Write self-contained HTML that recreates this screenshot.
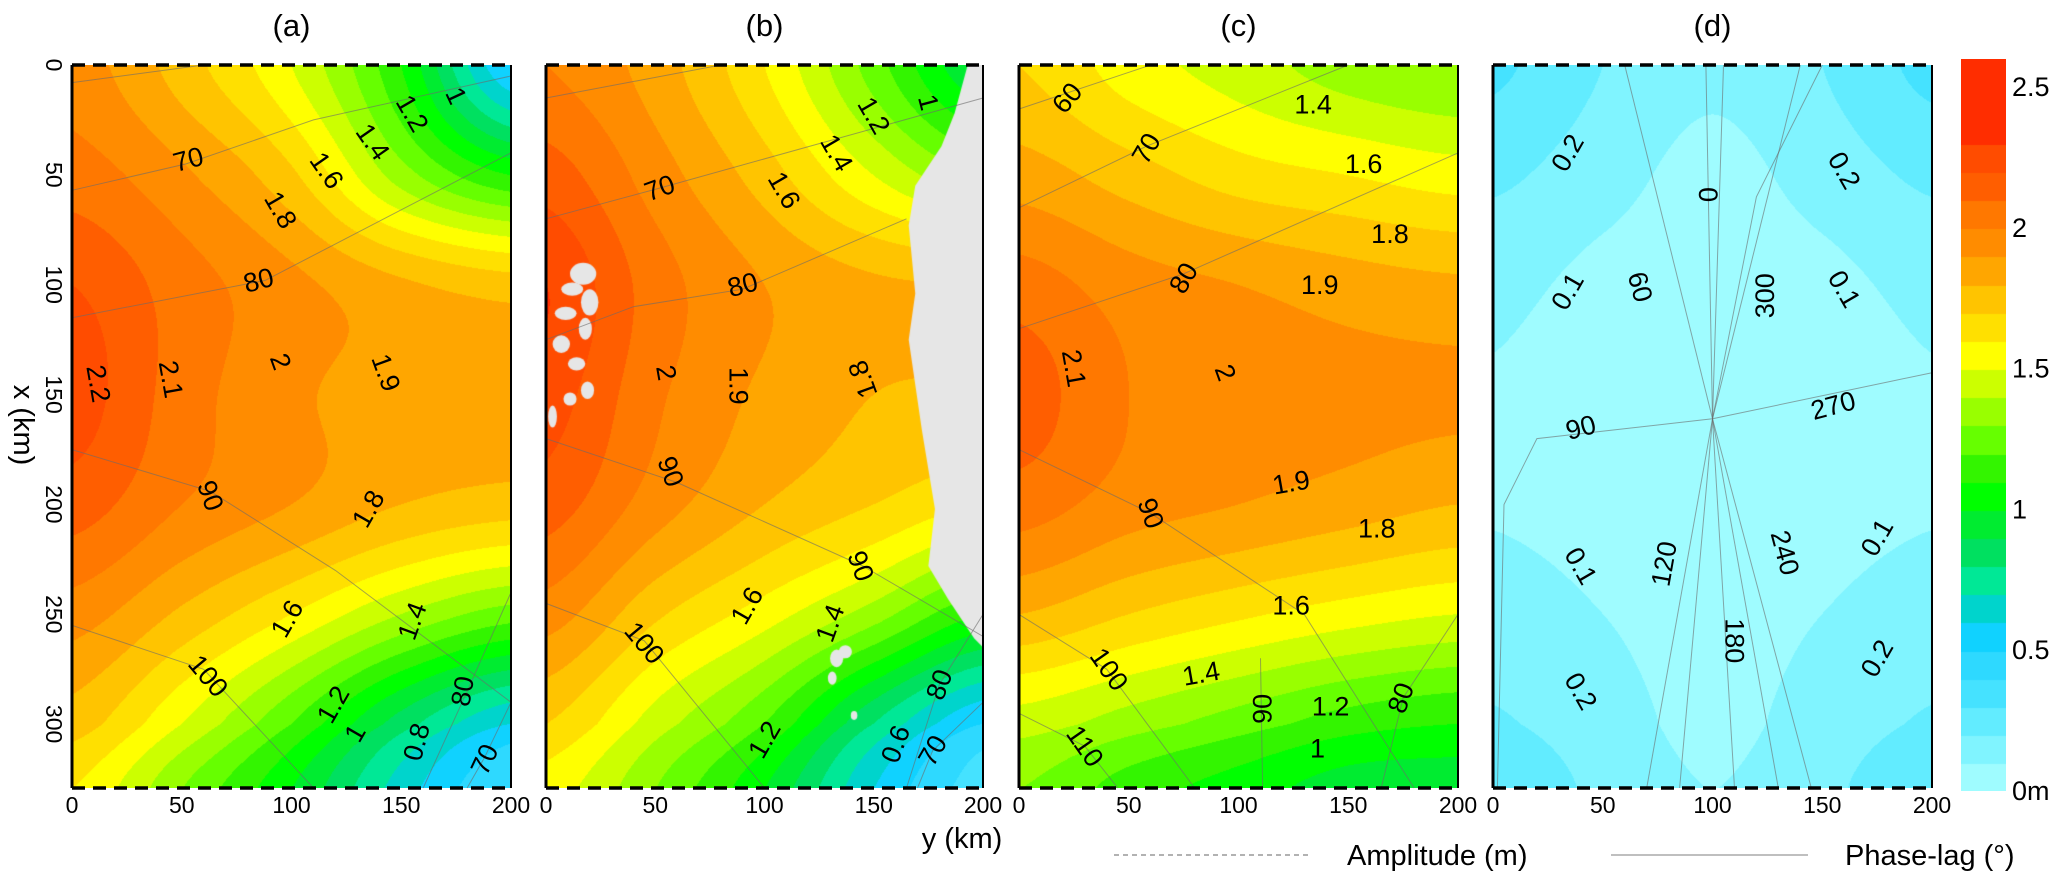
<!DOCTYPE html>
<html><head><meta charset="utf-8">
<style>
html,body{margin:0;padding:0;background:#fff;}
#wrap{position:relative;width:2067px;height:888px;overflow:hidden;font-family:"Liberation Sans",sans-serif;}
canvas{position:absolute;}
svg{position:absolute;left:0;top:0;}
</style></head>
<body>
<div id="wrap">
<canvas id="cA" width="439" height="723" style="left:72px;top:65px"></canvas>
<canvas id="cB" width="437" height="723" style="left:546px;top:65px"></canvas>
<canvas id="cC" width="439" height="723" style="left:1019px;top:65px"></canvas>
<canvas id="cD" width="439" height="723" style="left:1493px;top:65px"></canvas>
<canvas id="cbar" width="45" height="732" style="left:1961px;top:59px"></canvas>
<svg id="ov" width="2067" height="888"></svg>
</div>
<script>
// ---- data ----
const rowsX=[0,50,100,150,200,250,300,330];
const colsY=[0,50,100,150,200];
const ampA=[[1.95,1.75,1.5,1.1,0.5],[2.05,1.92,1.72,1.35,1.1],[2.2,2.05,1.93,1.82,1.75],[2.25,2.05,1.92,1.86,1.85],[2.15,2.0,1.9,1.8,1.75],[1.95,1.78,1.6,1.4,1.25],[1.75,1.5,1.2,0.85,0.6],[1.6,1.3,1.0,0.65,0.4]];
const ampB=[[2.0,1.85,1.6,1.25,0.9],[2.15,1.95,1.75,1.5,1.3],[2.3,2.05,1.9,1.82,1.8],[2.25,2.02,1.88,1.8,1.78],[2.15,1.95,1.8,1.7,1.6],[1.95,1.72,1.55,1.35,1.1],[1.7,1.45,1.2,0.8,0.5],[1.55,1.3,1.0,0.6,0.35]];
const ampC=[[1.7,1.55,1.45,1.35,1.3],[1.85,1.75,1.65,1.6,1.55],[2.05,1.95,1.9,1.85,1.82],[2.15,2.0,1.95,1.93,1.92],[2.05,1.95,1.9,1.85,1.8],[1.8,1.7,1.62,1.55,1.5],[1.45,1.35,1.25,1.15,1.1],[1.3,1.15,1.05,0.95,0.95]];
const ampD=[[0.32,0.2,0.12,0.2,0.33],[0.22,0.14,0.07,0.14,0.22],[0.13,0.07,0.04,0.07,0.13],[0.09,0.05,0.03,0.05,0.09],[0.09,0.06,0.04,0.06,0.09],[0.15,0.1,0.05,0.1,0.15],[0.21,0.15,0.07,0.15,0.21],[0.26,0.18,0.1,0.18,0.26]];
const bandColors=["#9ffcff","#80f4ff","#62ecff","#45e2ff","#2ed9ff","#10d2ff","#00d4cc","#00e896","#00e060","#00ec30","#00ff00","#33f500","#66ff00","#99ff00","#ccff00","#ffff00","#ffe000","#ffc400","#ffa600","#ff8c00","#ff7800","#ff5e00","#ff4c00","#ff2d00"];
const xTicks=[0,50,100,150,200];
const yTicks=[0,50,100,150,200,250,300];
const cbTicks=[2.5,2,1.5,1,0.5,0];
const cbLabels=["2.5","2","1.5","1","0.5","0m"];
const coastB=[[193,0],[187,22],[181,37],[169,55],[166,73],[169,104],[166,125],[172,166],[178,202],[175,228],[184,243],[196,261],[200,265],[200,0]];
const islandsB=[[17,95,6,5],[12,102,5,3],[20,108,4,6],[9,113,5,3],[18,120,3,5],[7,127,4,4],[14,136,4,3],[19,148,3,4],[11,152,3,3],[3,160,2,5],[133,270,3,4],[137,267,3,3],[131,279,2,3],[141,296,1.5,2]];
// contour labels: text, y(km), x(km), rotation
const labA=[["1",175,14,65],["1.2",155,22,60],["1.4",137,35,55],["1.6",116,48,55],["1.8",95,66,60],["70",53,43,-15],["80",85,98,-15],["2.2",12,145,80],["2.1",45,143,80],["2",95,135,70],["1.9",143,140,70],["90",63,196,70],["1.8",135,202,-60],["1.6",98,252,-60],["1.4",155,253,-70],["100",62,278,50],["1.2",119,291,-60],["1",129,304,-60],["0.8",157,308,-75],["80",178,285,-80],["70",188,316,-65]];
const labB=[["1",175,17,75],["1.2",150,23,60],["1.4",133,40,60],["1.6",109,57,60],["70",52,56,-20],["80",90,100,-15],["2",55,140,80],["1.9",88,146,90],["1.8",145,143,-110],["90",57,185,70],["90",144,228,70],["1.6",92,246,-60],["1.4",130,254,-70],["100",45,263,50],["80",180,282,-70],["1.2",100,307,-60],["0.6",160,309,-70],["70",177,312,-60]];
const labC=[["60",22,15,-50],["1.4",134,18,0],["70",58,38,-60],["1.6",157,45,0],["1.8",169,77,0],["80",75,97,-60],["1.9",137,100,0],["2.1",25,138,80],["2",94,140,70],["1.9",124,190,-10],["90",60,204,70],["1.8",163,211,0],["1.6",124,246,0],["100",41,275,55],["1.4",83,277,-10],["90",111,293,-90],["1.2",142,292,0],["80",174,288,-70],["1",136,311,0],["110",30,310,55]];
const labD=[["0.2",34,40,-60],["0.2",160,48,60],["0",98,59,90],["0.1",34,103,-60],["60",67,101,75],["300",124,105,-90],["0.1",160,102,60],["90",40,165,-15],["270",155,155,-15],["0.1",40,228,60],["120",78,227,-80],["240",133,222,75],["0.1",175,215,-60],["180",110,262,90],["0.2",40,285,60],["0.2",175,270,-60]];
// phase lines (y,x km)
const phA=[[[0,8],[60,0]],[[0,57],[52,45],[110,25],[200,5]],[[0,115],[88,98],[200,40]],[[0,175],[63,194],[120,230],[200,290]],[[0,255],[60,275],[110,329]],[[200,240],[180,285],[160,329]],[[200,290],[188,315],[180,329]]];
const phB=[[[0,15],[80,0]],[[0,70],[52,56],[200,15]],[[0,125],[40,110],[90,102],[165,70]],[[0,170],[60,190],[145,228],[200,260]],[[0,245],[45,262],[100,329]],[[200,250],[180,282],[165,329]],[[200,290],[177,312],[170,329]]];
const phC=[[[0,20],[60,0]],[[0,65],[58,37],[150,0]],[[0,120],[75,95],[200,40]],[[0,175],[60,204],[130,250],[180,329]],[[0,250],[40,275],[80,329]],[[0,295],[30,310],[45,329]],[[110,270],[111,329]],[[200,250],[175,288],[165,329]]];
const phD=[[[100,161],[97,0]],[[100,161],[60,0]],[[100,161],[140,0]],[[100,161],[120,60],[150,0]],[[100,161],[20,170],[5,200],[2,329]],[[100,161],[200,140]],[[100,161],[70,329]],[[100,161],[85,329]],[[100,161],[110,329]],[[100,161],[130,329]],[[100,161],[145,329]],[[100,161],[105,0]]];

// ---- helpers ----
function frac(arr,v){for(let i=0;i<arr.length-1;i++){if(v<=arr[i+1])return i+(v-arr[i])/(arr[i+1]-arr[i]);}return arr.length-1;}
function cr(p0,p1,p2,p3,t){return 0.5*((2*p1)+(-p0+p2)*t+(2*p0-5*p1+4*p2-p3)*t*t+(-p0+3*p1-3*p2+p3)*t*t*t);}
function g(G,r,c){r=Math.max(0,Math.min(G.length-1,r));c=Math.max(0,Math.min(G[0].length-1,c));return G[r][c];}
function sample(G,fr,fc){const i=Math.min(Math.floor(fr),G.length-2),j=Math.min(Math.floor(fc),G[0].length-2);const t=fr-i,u=fc-j;const rv=[];for(let a=-1;a<=2;a++){rv.push(cr(g(G,i+a,j-1),g(G,i+a,j),g(G,i+a,j+1),g(G,i+a,j+2),u));}return cr(rv[0],rv[1],rv[2],rv[3],t);}
function hex(h){return [parseInt(h.substr(1,2),16),parseInt(h.substr(3,2),16),parseInt(h.substr(5,2),16)];}
const rgb=bandColors.map(hex);
function bandOf(v){return Math.max(0,Math.min(rgb.length-1,Math.floor(v*10+1e-6)));}
function drawField(id,G){const cv=document.getElementById(id),ctx=cv.getContext('2d');const W=cv.width,H=cv.height;const im=ctx.createImageData(W,H);
 const fcs=[];for(let px=0;px<W;px++)fcs.push(frac(colsY,px/(W-1)*200));
 for(let py=0;py<H;py++){const fr=frac(rowsX,py/(H-1)*329);for(let px=0;px<W;px++){const v=sample(G,fr,fcs[px]);const c=rgb[bandOf(v)];const k=(py*W+px)*4;im.data[k]=c[0];im.data[k+1]=c[1];im.data[k+2]=c[2];im.data[k+3]=255;}}
 ctx.putImageData(im,0,0);return ctx;}
drawField('cA',ampA);
const ctxB=drawField('cB',ampB);
drawField('cC',ampC);
drawField('cD',ampD);
// land in b
(function(){const W=437,H=723;ctxB.fillStyle="#e6e6e6";ctxB.beginPath();coastB.forEach((p,i)=>{const X=p[0]/200*W,Y=p[1]/329*H;if(i)ctxB.lineTo(X,Y);else ctxB.moveTo(X,Y);});ctxB.closePath();ctxB.fill();
islandsB.forEach(e=>{ctxB.beginPath();ctxB.ellipse(e[0]/200*W,e[1]/329*H,e[2]/200*W,e[3]/329*H,0,0,Math.PI*2);ctxB.fill();});})();
// colorbar
(function(){const cv=document.getElementById('cbar'),ctx=cv.getContext('2d');const H=cv.height;const per=H/26;
for(let b=0;b<26;b++){const c=bandColors[Math.min(b,bandColors.length-1)];ctx.fillStyle=c;const y0=H-(b+1)*per,y1=H-b*per;ctx.fillRect(0,Math.floor(y0),45,Math.ceil(y1-y0)+1);}})();

// ---- SVG overlay ----
const NS="http://www.w3.org/2000/svg";const ov=document.getElementById('ov');
function el(tag,attrs,parent){const e=document.createElementNS(NS,tag);for(const k in attrs)e.setAttribute(k,attrs[k]);(parent||ov).appendChild(e);return e;}
const panels=[{L:72,R:511,t:"(a)",lab:labA,ph:phA,n:"a"},{L:546,R:983,t:"(b)",lab:labB,ph:phB,n:"b"},{L:1019,R:1458,t:"(c)",lab:labC,ph:phC,n:"c"},{L:1493,R:1932,t:"(d)",lab:labD,ph:phD,n:"d"}];
const T=65,B=788;
function sx(p,y){return p.L+y/200*(p.R-p.L);}
function sy(x){return T+x/329*(B-T);}
panels.forEach(p=>{
 const grp=el('g',{});
 
 
 p.ph.forEach(line=>{const pl=el('polyline',{points:line.map(q=>sx(p,q[0]).toFixed(1)+","+sy(q[1]).toFixed(1)).join(" "),fill:"none",stroke:"#6b6b6b","stroke-width":"1","stroke-opacity":"0.6"},grp);
  
  });
 p.lab.forEach(l=>{const X=sx(p,l[1]),Y=sy(l[2]);const tx=el('text',{x:X,y:Y,"font-size":"27","text-anchor":"middle","dominant-baseline":"central",transform:"rotate("+l[3]+" "+X+" "+Y+")",fill:"#000"},grp);tx.textContent=l[0];
  
  });
 const lb=el('line',{x1:p.L,y1:T,x2:p.L,y2:B,stroke:"#000","stroke-width":"3"},grp);
 
 const rb=el('line',{x1:p.R,y1:T,x2:p.R,y2:B,stroke:"#000","stroke-width":"2"},grp);
 
 const tb=el('line',{x1:p.L,y1:T,x2:p.R,y2:T,stroke:"#000","stroke-width":"3.5","stroke-dasharray":"13 8"},grp);
 
 const bb=el('line',{x1:p.L,y1:B,x2:p.R,y2:B,stroke:"#000","stroke-width":"3.5","stroke-dasharray":"13 8"},grp);
 
 const tt=el('text',{x:(p.L+p.R)/2,y:36,"font-size":"31","text-anchor":"middle"},grp);tt.textContent=p.t;
 
 xTicks.forEach(v=>{const k=el('text',{x:sx(p,v),y:813,"font-size":"23","text-anchor":"middle"},grp);k.textContent=v;
  });
});
yTicks.forEach(v=>{const Y=T+v*2.197;const k=el('text',{x:46,y:Y,"font-size":"23","text-anchor":"middle",transform:"rotate(90 46 "+Y+")"});k.textContent=v;
 });
let t1=el('text',{x:14,y:425,"font-size":"29","text-anchor":"middle",transform:"rotate(90 14 425)"});t1.textContent="x (km)";

let t2=el('text',{x:962,y:848,"font-size":"29","text-anchor":"middle"});t2.textContent="y (km)";

cbTicks.forEach((v,i)=>{const Y=791-v/2.6*732;const k=el('text',{x:2012,y:Y,"font-size":"27","dominant-baseline":"central"});k.textContent=cbLabels[i];
 });
let l1=el('line',{x1:1114,y1:855,x2:1311,y2:855,stroke:"#999","stroke-width":"1.5","stroke-dasharray":"5 4"});

let l2=el('text',{x:1347,y:865,"font-size":"29"});l2.textContent="Amplitude (m)";

let l3=el('line',{x1:1611,y1:855,x2:1808,y2:855,stroke:"#aaa","stroke-width":"1.5"});

let l4=el('text',{x:1845,y:865,"font-size":"29"});l4.textContent="Phase-lag (°)";

</script>
</body></html>
